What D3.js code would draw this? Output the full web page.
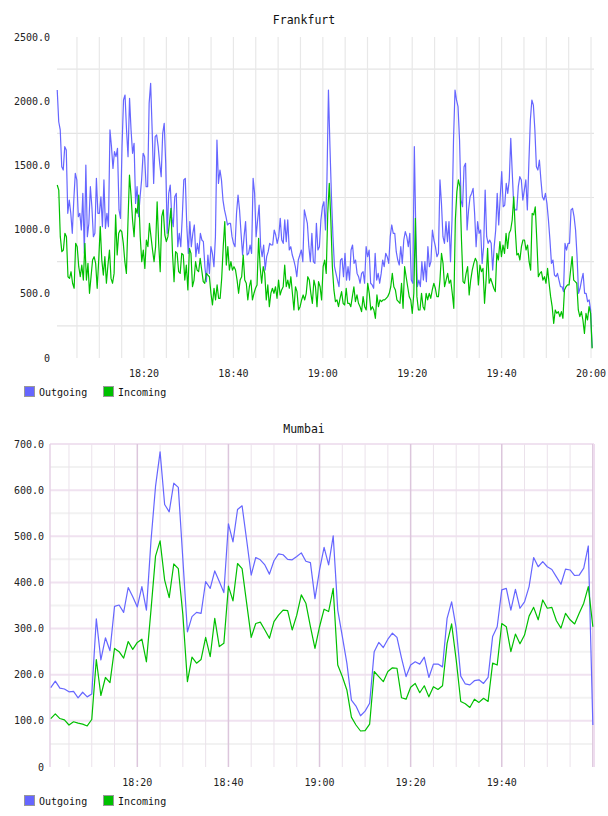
<!DOCTYPE html>
<html>
<head>
<meta charset="utf-8">
<script src="https://cdn.jsdelivr.net/npm/d3@7"></script>
<style>
body { margin: 0; background: #fff; overflow: hidden; }
text { font-family: "DejaVu Sans Mono", monospace; }
</style>
</head>
<body>
<div id="charts"></div>
<script>
// values, one entry per sample
const seriesNames = ["Outgoing", "Incoming"];
const seriesColors = ["#6666ff", "#00c000"];
const xTickLabels = ["18:20", "18:40", "19:00", "19:20", "19:40", "20:00"];

const frankfurtYTicks = [0, 500, 1000, 1500, 2000, 2500];
const frankfurtStart = "18:00:35";
const frankfurtEnd = "20:00:15";
const frankfurtOutgoing = [
  2087,1840,1776,1490,1464,1646,1620,1127,1230,1127,971,1230,1438,1387,1101,1127,997,1282,815,1503,
  945,1049,1334,1178,945,971,1399,1127,1127,1256,1023,1387,1010,1127,1023,1776,1646,1477,1607,1568,
  1633,1153,1088,1646,2009,2048,1776,1568,2022,1776,1594,1672,1204,1334,1101,1256,1387,1594,1568,1334,
  1334,1983,2139,1776,1360,1724,1737,1646,1516,1412,1750,1828,1516,971,1282,1347,1101,1023,1256,1282,
  867,971,867,1101,1387,
  1399,1023,815,1062,867,971,1036,789,893,815,971,919,906,711,595,802,659,867,815,711,945,1698,1360,1464,
  1387,1230,1153,1101,1036,1049,1049,945,893,867,1127,1269,1153,971,802,945,1062,802,815,880,815,1399,
  1282,945,1075,1191,867,789,880,685,789,828,893,880,880,997,958,893,945,1088,919,893,1075,906,1075,841,
  867,802,763,711,633,763,802,841,750,1153,1101,1049,867,750,971,750,737,1049,841,867,1075,1178,
  1217,997,1387,2087,1646,1256,945,711,659,607,555,763,776,633,815,607,711,607,841,880,737,763,659,633,
  582,659,672,582,867,789,841,582,569,543,815,607,659,582,659,763,711,815,789,737,945,1036,971,971,828,
  763,724,867,737,919,984,945,867,971,607,582,1646,971,555,607,555,750,607,750,595,867,711,750,997,919,
  867,789,815,1387,1204,945,893,1062,906,1062,750,1075,1698,2087,2009,1957,
  1698,1230,1178,1490,1516,997,1153,1256,1282,1321,1127,867,1062,971,997,737,867,1308,945,893,919,893,
  685,867,997,1282,1036,1256,1451,1178,1191,1360,1282,1387,1711,1438,1178,1153,1153,1334,1412,1387,1230,
  1308,1387,1153,1516,1853,2009,1970,1776,1490,1464,1542,1387,1256,1230,1282,1204,1075,919,737,763,646,
  633,659,607,555,555,517,893,841,893,893,1153,1166,1101,997,789,504,543,607,659,504,504,439,452,374,80
];
const frankfurtIncoming = [
  1347,1308,945,828,841,971,945,633,620,672,582,543,893,867,711,633,724,607,893,607,737,504,633,763,789,
  737,543,763,1023,763,646,789,582,724,841,620,582,659,1114,802,971,997,984,893,750,659,1049,1425,1269,
  1075,945,1166,1127,1269,945,750,841,698,919,867,1049,945,841,750,867,1217,893,672,1101,1153,958,906,945,
  1049,1166,815,595,828,815,672,659,815,802,607,724,530,854,
  815,555,607,750,685,672,776,685,595,582,659,646,633,504,413,543,452,569,465,465,620,867,1062,724,867,685,
  750,685,711,685,607,504,607,633,802,607,582,452,555,607,452,504,543,569,932,711,582,711,659,452,569,400,
  504,543,504,555,465,607,491,530,555,724,555,607,543,633,504,374,555,517,374,400,452,491,452,504,633,607,
  504,426,607,555,400,595,555,452,711,763,
  659,1127,1360,1075,711,530,439,452,400,465,517,426,413,543,426,426,400,478,555,439,491,426,400,361,478,
  400,374,582,504,374,400,374,309,491,400,452,439,452,452,465,478,504,555,659,555,530,452,439,426,582,387,
  711,633,555,478,452,348,504,1088,478,374,374,504,400,374,504,452,504,465,530,582,543,478,478,607,815,737,
  555,607,659,582,607,504,387,1075,1295,1387,1334,
  919,595,582,659,711,491,607,685,737,776,750,569,724,672,698,426,607,854,582,620,582,543,517,815,763,906,
  789,880,815,971,854,971,997,1075,1256,997,802,815,763,867,919,919,841,880,750,685,1127,1114,1178,919,633,
  659,672,607,633,582,698,582,478,400,270,374,348,361,322,361,309,530,555,569,569,685,789,607,595,582,374,
  322,361,296,192,348,296,400,348,75
];

const mumbaiYTicks = [0, 100, 200, 300, 400, 500, 600, 700];
const mumbaiStart = "18:01:00";
const mumbaiEnd = "20:00:00";
const mumbaiOutgoing = [
  172,186,171,169,163,164,150,162,152,158,321,232,280,252,348,351,335,389,369,347,
  391,340,490,608,683,569,553,615,606,450,293,326,335,333,402,387,425,402,378,527,
  488,558,566,492,416,454,449,438,418,447,462,460,450,449,456,464,446,443,365,427,
  476,438,501,340,283,225,145,132,111,121,138,250,270,259,277,290,281,236,196,221,
  228,223,238,194,223,223,217,322,358,301,197,180,178,187,189,181,194,283,304,384,
  387,340,385,344,358,391,454,434,445,434,428,412,396,429,427,415,416,431,479,91
];
const mumbaiIncoming = [
  105,115,105,102,91,98,95,93,89,103,233,155,194,183,257,250,236,272,255,270,
  277,228,340,457,490,405,367,440,430,330,185,238,225,233,281,239,322,261,268,392,
  360,441,430,355,281,311,314,297,279,315,329,340,339,297,329,373,355,304,257,304,
  342,337,387,221,196,167,108,91,78,79,93,207,196,185,207,215,214,150,147,173,
  181,161,176,152,174,168,176,268,310,232,142,137,129,147,140,149,142,225,221,311,
  304,250,288,267,286,327,346,319,362,344,346,317,301,333,319,310,333,355,391,304
];

const parseTime = d3.timeParse("%H:%M:%S");
const parseTick = d3.timeParse("%H:%M");

function toPoints(values, start, end) {
  const t0 = parseTime(start), t1 = parseTime(end);
  const step = (t1 - t0) / (values.length - 1);
  return values.map((v, i) => ({t: new Date(+t0 + i * step), v: v}));
}

class TrafficChart {

  constructor(svg, cfg) {
    this.svg = svg;
    this.cfg = cfg;
    this.g = svg.append("g").attr("class", "traffic-chart");
    this.x = d3.scaleTime()
      .domain(cfg.domain.map(parseTime))
      .range([cfg.left, cfg.right]);
    this.y = d3.scaleLinear()
      .domain([0, d3.max(cfg.yTicks)])
      .range([cfg.bottom, cfg.top]);
  }

  draw() {
    this.drawGrid();
    this.drawAxes();
    this.drawLines();
    this.drawLegend();
  }

  drawGrid() {
    let cfg = this.cfg, that = this;
    let grid = this.g.append("g").attr("class", "grid");
    let minutes = d3.timeMinute.every(5).range(this.x.domain()[0], this.x.domain()[1]);

    if (cfg.style === "gray") {
      let step = cfg.yTicks[1] - cfg.yTicks[0];
      let hLines = d3.range(step / 2, d3.max(cfg.yTicks), step);
      grid.selectAll(".h").data(hLines).join("line")
        .attr("x1", cfg.left).attr("x2", cfg.right)
        .attr("y1", d => that.y(d)).attr("y2", d => that.y(d))
        .attr("stroke", "#e4e4e4").attr("stroke-width", 1.2);
      grid.selectAll(".v").data(minutes).join("line")
        .attr("x1", d => that.x(d)).attr("x2", d => that.x(d))
        .attr("y1", cfg.top).attr("y2", cfg.bottom)
        .attr("stroke", "#e8e8e8").attr("stroke-width", 1.2);
    } else {
      let hLines = d3.range(50, d3.max(cfg.yTicks) + 1, 50);
      grid.selectAll(".h").data(hLines).join("line")
        .attr("x1", cfg.left).attr("x2", cfg.right)
        .attr("y1", d => that.y(d)).attr("y2", d => that.y(d))
        .attr("stroke", d => d % 100 === 0 ? "#f0e2f0" : "#f2f2f2")
        .attr("stroke-width", 2);
      grid.selectAll(".v").data(minutes).join("line")
        .attr("x1", d => that.x(d)).attr("x2", d => that.x(d))
        .attr("y1", cfg.top).attr("y2", cfg.bottom)
        .attr("stroke", d => d.getMinutes() % 20 === 0 ? "#dcc6dc" : "#ebe2eb")
        .attr("stroke-width", d => d.getMinutes() % 20 === 0 ? 1.5 : 1);
      // frame on the left and right
      grid.append("line")
        .attr("x1", cfg.left).attr("x2", cfg.left)
        .attr("y1", cfg.top).attr("y2", cfg.bottom)
        .attr("stroke", "#e6d2e6").attr("stroke-width", 1.5);
      grid.append("line")
        .attr("x1", cfg.right).attr("x2", cfg.right)
        .attr("y1", cfg.top).attr("y2", cfg.bottom)
        .attr("stroke", "#eedcee").attr("stroke-width", 2);
    }
  }

  drawAxes() {
    let cfg = this.cfg, that = this;
    this.g.append("text")
      .attr("x", 304).attr("y", cfg.top - cfg.titleGap)
      .attr("dy", "0.35em")
      .attr("text-anchor", "middle")
      .attr("font-size", "11.5px")
      .attr("fill", "#111")
      .text(cfg.title);

    let fmt = d3.format(".1f");
    this.g.append("g").selectAll("text").data(cfg.yTicks).join("text")
      .attr("x", cfg.left - cfg.labelGap)
      .attr("y", d => that.y(d))
      .attr("dy", "0.35em")
      .attr("text-anchor", "end")
      .attr("font-size", "10px")
      .attr("fill", "#222")
      .text(d => d === 0 ? "0" : fmt(d));

    this.g.append("g").selectAll("text").data(cfg.xTicks).join("text")
      .attr("x", d => that.x(parseTick(d)))
      .attr("y", cfg.bottom + 15)
      .attr("dy", "0.35em")
      .attr("text-anchor", "middle")
      .attr("font-size", "10px")
      .attr("fill", "#222")
      .text(d => d);
  }

  drawLines() {
    let that = this;
    let line = d3.line()
      .x(d => that.x(d.t))
      .y(d => that.y(d.v));
    this.cfg.series.forEach(function (s) {
      that.g.append("path")
        .datum(s.points)
        .attr("d", line)
        .attr("fill", "none")
        .attr("stroke", s.color)
        .attr("stroke-width", 1.2)
        .attr("stroke-linejoin", "round");
    });
  }

  drawLegend() {
    let cfg = this.cfg;
    let ly = cfg.bottom + 34;
    let items = this.g.append("g").selectAll("g").data(cfg.series).join("g")
      .attr("transform", (d, i) => "translate(" + (24 + i * 79) + "," + ly + ")");
    items.append("rect")
      .attr("x", 0.5).attr("y", -5.5)
      .attr("width", 10).attr("height", 10)
      .attr("fill", d => d.color)
      .attr("stroke", "#999");
    items.append("text")
      .attr("x", 15).attr("y", 0)
      .attr("dy", "0.35em")
      .attr("font-size", "10px")
      .attr("fill", "#111")
      .text(d => d.name);
  }
}

const svg = d3.select("#charts").append("svg")
  .attr("width", 608).attr("height", 816);

new TrafficChart(svg, {
  title: "Frankfurt",
  style: "gray",
  left: 57, right: 594, top: 37, bottom: 358, labelGap: 7, titleGap: 17,
  domain: ["18:00:32", "20:00:40"],
  yTicks: frankfurtYTicks,
  xTicks: xTickLabels,
  series: [
    {name: seriesNames[0], color: seriesColors[0], points: toPoints(frankfurtOutgoing, frankfurtStart, frankfurtEnd)},
    {name: seriesNames[1], color: seriesColors[1], points: toPoints(frankfurtIncoming, frankfurtStart, frankfurtEnd)}
  ]
}).draw();

new TrafficChart(svg, {
  title: "Mumbai",
  style: "pink",
  left: 50, right: 594, top: 444, bottom: 767, labelGap: 6, titleGap: 15,
  domain: ["18:00:50", "20:00:15"],
  yTicks: mumbaiYTicks,
  xTicks: xTickLabels.slice(0, 5),
  series: [
    {name: seriesNames[0], color: seriesColors[0], points: toPoints(mumbaiOutgoing, mumbaiStart, mumbaiEnd)},
    {name: seriesNames[1], color: seriesColors[1], points: toPoints(mumbaiIncoming, mumbaiStart, mumbaiEnd)}
  ]
}).draw();
</script>
</body>
</html>
